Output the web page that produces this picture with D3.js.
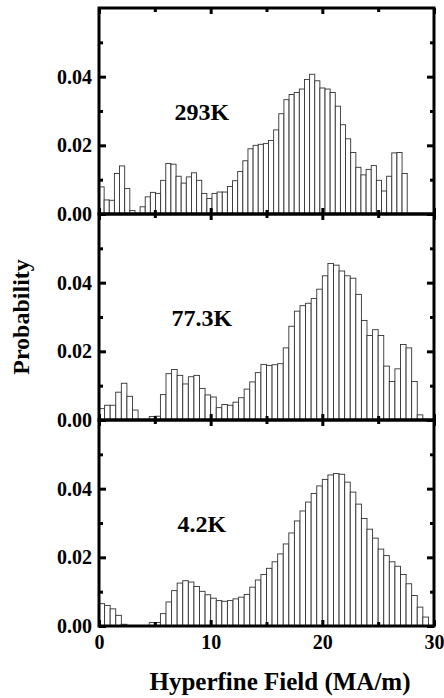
<!DOCTYPE html>
<html>
<head>
<meta charset="utf-8">
<script src="https://cdn.jsdelivr.net/npm/d3@7"></script>
<style>
    body { margin: 0; background: white; }
    svg { display: block; font-family: "Liberation Serif", "Times New Roman", serif; font-weight: bold; }
</style>
</head>
<body>
<div class="board"></div>
<script>
var margin = { top: 8, right: 10, bottom: 72, left: 99 },
    width = 444,
    height = 698

// panel labels and histogram bin widths (MA/m)
const temperatures = ["293K", "77.3K", "4.2K"]
const binWidths = [0.46, 0.5, 0.5]

// probability per field bin, starting at 0 MA/m
const prob293K = [
    0.0079, 0.0041, 0.0040, 0.0118, 0.0140, 0.0074, 0.0010, 0.0000, 0.0021, 0.0050,
    0.0063, 0.0060, 0.0098, 0.0147, 0.0145, 0.0110, 0.0090, 0.0108, 0.0120, 0.0098,
    0.0060, 0.0045, 0.0060, 0.0064, 0.0064, 0.0080, 0.0097, 0.0124, 0.0155, 0.0190,
    0.0200, 0.0203, 0.0205, 0.0214, 0.0245, 0.0292, 0.0333, 0.0348, 0.0354, 0.0364,
    0.0392, 0.0407, 0.0388, 0.0367, 0.0364, 0.0354, 0.0314, 0.0260, 0.0219, 0.0179,
    0.0136, 0.0114, 0.0130, 0.0141, 0.0098, 0.0067, 0.0110, 0.0178, 0.0179, 0.0118
]

const prob77K = [
    0.0033, 0.0043, 0.0043, 0.0081, 0.0107, 0.0069, 0.0029, 0.0000, 0.0000, 0.0010,
    0.0011, 0.0074, 0.0135, 0.0147, 0.0130, 0.0105, 0.0126, 0.0130, 0.0092, 0.0073,
    0.0067, 0.0036, 0.0045, 0.0043, 0.0052, 0.0065, 0.0090, 0.0111, 0.0138, 0.0162,
    0.0159, 0.0161, 0.0164, 0.0210, 0.0273, 0.0317, 0.0333, 0.0340, 0.0354, 0.0381,
    0.0420, 0.0456, 0.0451, 0.0434, 0.0420, 0.0413, 0.0366, 0.0290, 0.0246, 0.0263,
    0.0246, 0.0157, 0.0112, 0.0149, 0.0220, 0.0210, 0.0112, 0.0015
]

const prob4K = [
    0.0065, 0.0060, 0.0050, 0.0031, 0.0005, 0.0000, 0.0000, 0.0000, 0.0000, 0.0010,
    0.0010, 0.0036, 0.0070, 0.0103, 0.0125, 0.0132, 0.0128, 0.0115, 0.0101, 0.0091,
    0.0081, 0.0074, 0.0072, 0.0074, 0.0079, 0.0084, 0.0092, 0.0113, 0.0134, 0.0150,
    0.0168, 0.0187, 0.0210, 0.0239, 0.0271, 0.0306, 0.0335, 0.0361, 0.0386, 0.0408,
    0.0427, 0.0440, 0.0444, 0.0442, 0.0419, 0.0390, 0.0355, 0.0313, 0.0282, 0.0256,
    0.0224, 0.0205, 0.0187, 0.0174, 0.0150, 0.0123, 0.0089, 0.0055, 0.0026
]

const panels = [prob293K, prob77K, prob4K]

const yMajorTicks = [0, 0.02, 0.04]
const yMinorTicks = [0.01, 0.03, 0.05]
const xMajorTicks = [0, 10, 20, 30]
const xMinorTicks = [5, 15, 25]

PLOT_RIGHT = 434
PANEL_HEIGHT = 206

var svg = d3.select(".board")
    .append("svg")
    .attr("width", width)
    .attr("height", height)

let x = d3.scaleLinear()
    .domain([0, 30])
    .range([margin.left, PLOT_RIGHT])

function appendPanel(data, p) {
    let top = margin.top + p * PANEL_HEIGHT
    let bottom = top + PANEL_HEIGHT
    let bw = binWidths[p]

    let y = d3.scaleLinear()
        .domain([0, 0.06])
        .range([bottom, top])

    let g = svg.append("g")

    g.selectAll(".bar")
        .data(data)
        .enter()
        .append("rect")
        .classed("bar", true)
        .attr("x", (d, i) => x(i * bw))
        .attr("y", d => y(d))
        .attr("width", x(bw) - x(0))
        .attr("height", d => bottom - y(d))
        .attr("fill", "white")
        .attr("stroke", "#333")
        .attr("stroke-width", 0.9)

    g.append("text")
        .text(temperatures[p])
        .attr("x", x(9.2))
        .attr("y", top + 112)
        .attr("text-anchor", "middle")
        .attr("font-size", 24)

    // inward ticks on every side
    let axes = [
        [d3.axisLeft(y).tickValues(yMajorTicks).tickSize(-7).tickPadding(7).tickFormat(d3.format(".2f")), `translate(${margin.left},0)`],
        [d3.axisLeft(y).tickValues(yMinorTicks).tickSize(-4).tickFormat(""), `translate(${margin.left},0)`],
        [d3.axisRight(y).tickValues(yMajorTicks).tickSize(-7).tickFormat(""), `translate(${PLOT_RIGHT},0)`],
        [d3.axisRight(y).tickValues(yMinorTicks).tickSize(-4).tickFormat(""), `translate(${PLOT_RIGHT},0)`],
        [d3.axisTop(x).tickValues(xMajorTicks).tickSize(-6).tickFormat(""), `translate(0,${top})`],
        [d3.axisTop(x).tickValues(xMinorTicks).tickSize(-4).tickFormat(""), `translate(0,${top})`],
        [d3.axisBottom(x).tickValues(xMajorTicks).tickSize(-6).tickPadding(9).tickFormat(p == 2 ? d3.format("d") : ""), `translate(0,${bottom})`],
        [d3.axisBottom(x).tickValues(xMinorTicks).tickSize(-4).tickFormat(""), `translate(0,${bottom})`]
    ]

    axes.forEach(a => {
        let ag = svg.append("g")
            .attr("transform", a[1])
            .call(a[0].tickSizeOuter(0))
        ag.select(".domain").remove()
        ag.selectAll("line")
            .attr("stroke", "black")
            .attr("stroke-width", 3)
        ag.selectAll("text")
            .attr("fill", "black")
            .attr("font-size", 20)
            .attr("font-family", "Liberation Serif")
            .attr("font-weight", "bold")
    })

    svg.append("rect")
        .attr("x", margin.left)
        .attr("y", top)
        .attr("width", PLOT_RIGHT - margin.left)
        .attr("height", PANEL_HEIGHT)
        .attr("fill", "none")
        .attr("stroke", "black")
        .attr("stroke-width", 3)
}

panels.forEach((d, i) => appendPanel(d, i))

svg.append("text")
    .text("Probability")
    .attr("transform", `translate(29, ${margin.top + 1.5 * PANEL_HEIGHT}) rotate(-90)`)
    .attr("text-anchor", "middle")
    .attr("font-size", 24)

svg.append("text")
    .text("Hyperfine Field (MA/m)")
    .attr("x", 280)
    .attr("y", 690)
    .attr("text-anchor", "middle")
    .attr("font-size", 25)
</script>
</body>
</html>
